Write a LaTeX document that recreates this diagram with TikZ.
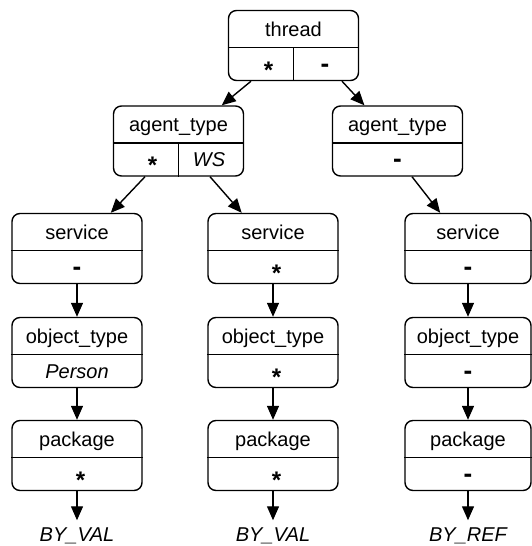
\documentclass[tikz,border=0pt]{standalone}
\usepackage{fontspec}
\setmainfont{Liberation Sans}
\usetikzlibrary{arrows.meta}

\begin{document}
\begin{tikzpicture}[x=1pt,y=-1pt,
  rec/.style={draw,rounded corners=8pt,line width=1.4pt,minimum width=130pt,minimum height=70pt,inner sep=0pt},
  lbl/.style={font=\fontsize{20}{24}\selectfont,inner sep=0pt,text height=14.5pt,text depth=0pt},
  wild/.style={lbl,font=\fontsize{24}{28}\selectfont\bfseries,yshift=-7pt},
  none/.style={lbl,font=\fontsize{26}{30}\selectfont\bfseries,yshift=-1pt},
  outtxt/.style={lbl,font=\fontsize{20}{24}\selectfont\itshape,outer sep=7pt},
  sep/.style={line width=1.4pt},
  arr/.style={line width=1.4pt,-{Triangle[length=14pt,width=12pt]}}]
\useasboundingbox (0,0) rectangle (531,546);
\node [rec] (thread) at (293.5,45.5) {};
\node [rec] (agentA) at (178.5,141) {};
\node [rec] (agentB) at (397.5,141) {};
\node [rec] (serviceA) at (77,248.5) {};
\node [rec] (serviceB) at (273,248.5) {};
\node [rec,minimum width=126pt] (serviceC) at (468,248.5) {};
\node [rec] (objectA) at (77,352.5) {};
\node [rec] (objectB) at (273,352.5) {};
\node [rec,minimum width=126pt] (objectC) at (468,352.5) {};
\node [rec] (packageA) at (77,455.5) {};
\node [rec] (packageB) at (273,455.5) {};
\node [rec,minimum width=126pt] (packageC) at (468,455.5) {};
\foreach \b in {thread,agentA,agentB,serviceA,serviceB,serviceC,objectA,objectB,objectC,packageA,packageB,packageC}
  \draw [sep] ([yshift=-2pt]\b.west) -- ([yshift=-2pt]\b.east);
\draw [sep] ([yshift=-2pt]thread.center) -- (thread.south);
\draw [sep] ([yshift=-2pt]agentA.center) -- (agentA.south);
\node [lbl] (threadT) at ([yshift=16.5pt]thread.center) {thread};
\node [wild] (threadL) at ([xshift=-25pt,yshift=-18.5pt]thread.center) {*};
\node [none] (threadR) at ([xshift=31.5pt,yshift=-18.5pt]thread.center) {-};
\node [lbl] (agentAT) at ([yshift=16.5pt]agentA.center) {agent\_type};
\node [wild] (agentAL) at ([xshift=-26pt,yshift=-18.5pt]agentA.center) {*};
\node [lbl] (agentAR) at ([xshift=30.5pt,yshift=-18.5pt]agentA.center) {\itshape WS};
\node [lbl] (agentBT) at ([yshift=16.5pt]agentB.center) {agent\_type};
\node [none] (agentBF) at ([yshift=-18.5pt]agentB.center) {-};
\node [lbl] (serviceAT) at ([yshift=16.5pt]serviceA.center) {service};
\node [none] (serviceAF) at ([yshift=-18.5pt]serviceA.center) {-};
\node [lbl] (serviceBT) at ([yshift=16.5pt]serviceB.center) {service};
\node [wild] (serviceBF) at ([xshift=3.5pt,yshift=-18.5pt]serviceB.center) {*};
\node [lbl] (serviceCT) at ([yshift=16.5pt]serviceC.center) {service};
\node [none] (serviceCF) at ([yshift=-18.5pt]serviceC.center) {-};
\node [lbl] (objectAT) at ([yshift=16.5pt]objectA.center) {object\_type};
\node [lbl] (objectAF) at ([yshift=-18.5pt]objectA.center) {\itshape Person};
\node [lbl] (objectBT) at ([yshift=16.5pt]objectB.center) {object\_type};
\node [wild] (objectBF) at ([xshift=3.5pt,yshift=-18.5pt]objectB.center) {*};
\node [lbl] (objectCT) at ([yshift=16.5pt]objectC.center) {object\_type};
\node [none] (objectCF) at ([yshift=-18.5pt]objectC.center) {-};
\node [lbl] (packageAT) at ([yshift=16.5pt]packageA.center) {package};
\node [wild] (packageAF) at ([xshift=3.5pt,yshift=-18.5pt]packageA.center) {*};
\node [lbl] (packageBT) at ([yshift=16.5pt]packageB.center) {package};
\node [wild] (packageBF) at ([xshift=3.5pt,yshift=-18.5pt]packageB.center) {*};
\node [lbl] (packageCT) at ([yshift=16.5pt]packageC.center) {package};
\node [none] (packageCF) at ([yshift=-18.5pt]packageC.center) {-};
\node [outtxt] (resultA) at (77,534.5) {BY\_VAL};
\node [outtxt] (resultB) at (273,534.5) {BY\_VAL};
\node [outtxt] (resultC) at (468,534.5) {BY\_REF};
\draw [arr] ([xshift=-42.5pt]thread.south) -- (agentA);
\draw [arr] ([xshift=48.5pt]thread.south) -- (agentB);
\draw [arr] ([xshift=-33.5pt]agentA.south) -- (serviceA);
\draw [arr] ([xshift=31.5pt]agentA.south) -- (serviceB);
\draw [arr] ([xshift=14.5pt]agentB.south) -- (serviceC);
\draw [arr] (serviceA) -- (objectA);
\draw [arr] (serviceB) -- (objectB);
\draw [arr] (serviceC) -- (objectC);
\draw [arr] (objectA) -- (packageA);
\draw [arr] (objectB) -- (packageB);
\draw [arr] (objectC) -- (packageC);
\draw [arr] (packageA) -- (resultA);
\draw [arr] (packageB) -- (resultB);
\draw [arr] (packageC) -- (resultC);
\end{tikzpicture}
\end{document}
